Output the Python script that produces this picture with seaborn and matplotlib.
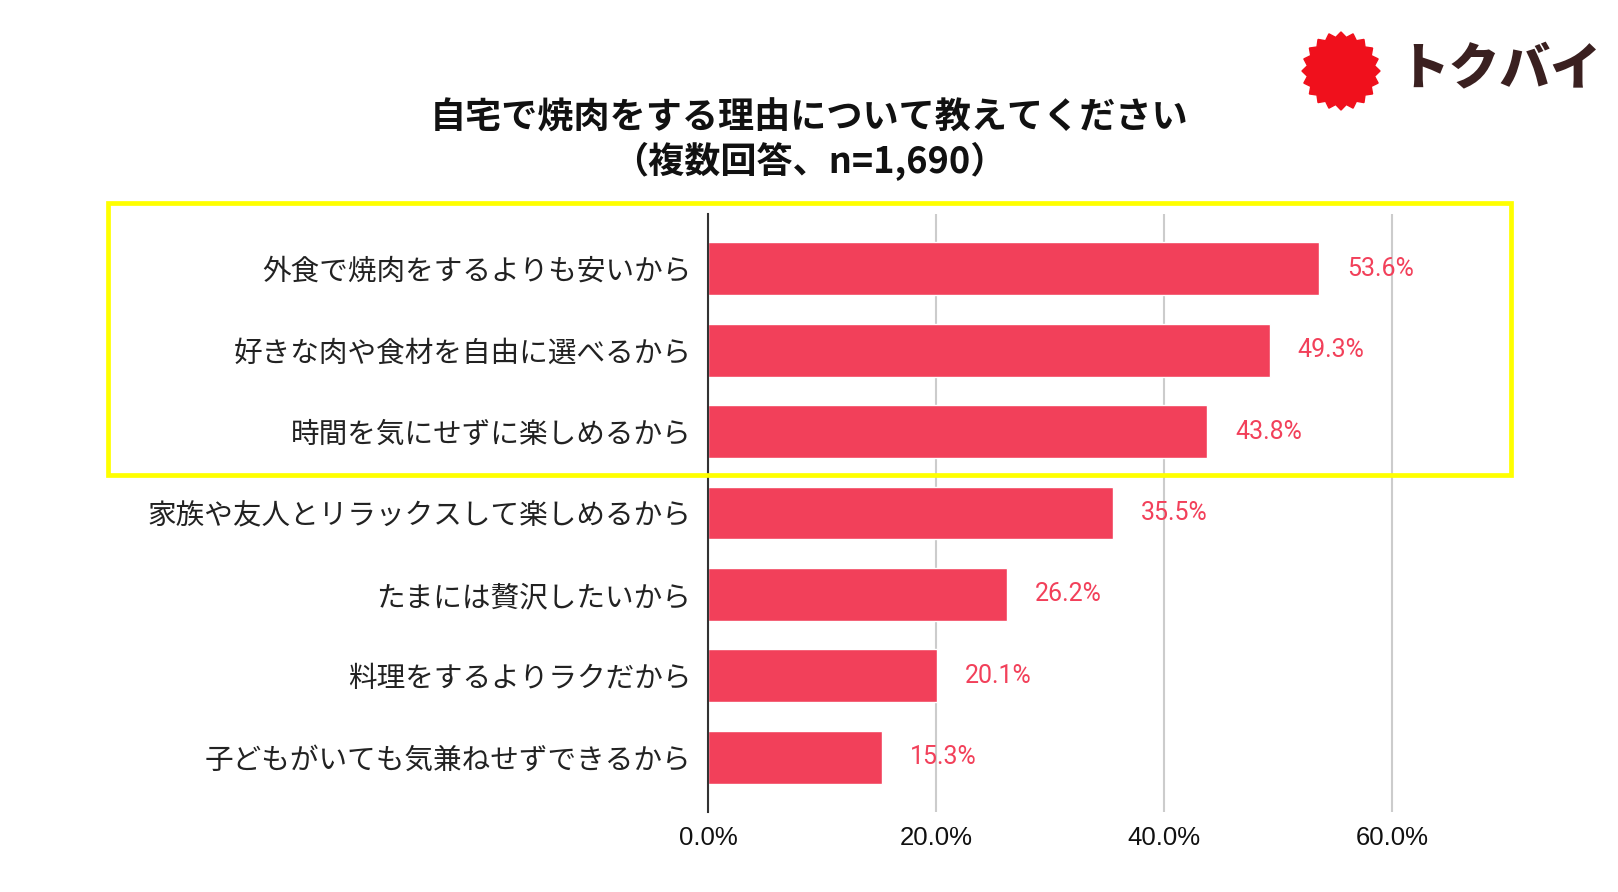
import numpy as np
import pandas as pd
import matplotlib
matplotlib.use("Agg")
import matplotlib.pyplot as plt
import matplotlib.transforms as mtransforms
from matplotlib.patches import Rectangle, Polygon
import seaborn as sns

# データ
reasons = [
    "外食で焼肉をするよりも安いから",
    "好きな肉や食材を自由に選べるから",
    "時間を気にせずに楽しめるから",
    "家族や友人とリラックスして楽しめるから",
    "たまには贅沢したいから",
    "料理をするよりラクだから",
    "子どもがいても気兼ねせずできるから",
]
shares = [53.6, 49.3, 43.8, 35.5, 26.2, 20.1, 15.3]
x_ticks = [0, 20, 40, 60]
title_line1 = "自宅で焼肉をする理由について教えてください"
title_line2 = "（複数回答、n=1,690）"
logo_text = "トクバイ"

BAR = "#f2405a"
W, H = 1618, 892

sns.set_theme(style="white")
plt.rcParams['font.family'] = ['Noto Sans CJK JP', 'DejaVu Sans']

df = pd.DataFrame({"理由": reasons, "割合": shares})

fig = plt.figure(figsize=(W / 100, H / 100), dpi=100)
ax = fig.add_axes([708 / W, 1 - 812 / H, (1506 - 708) / W, (812 - 214) / H])

sns.barplot(data=df, x="割合", y="理由", color=BAR, saturation=1,
            width=0.65, ax=ax, zorder=3)

ax.set_xlim(0, 70)
ax.set_ylim(6.67, -0.67)
ax.set_xticks(x_ticks)
ax.set_xticklabels([f"{t:.1f}%" for t in x_ticks], fontfamily="Liberation Sans",
                   fontsize=18.5, color="#111111")
for lab in ax.get_yticklabels():
    lab.set_fontsize(20.6)
    lab.set_color("#222222")
ax.tick_params(axis="both", length=0)
ax.tick_params(axis="y", pad=12)
ax.tick_params(axis="x", pad=10)
ax.set_xlabel("")
ax.set_ylabel("")
ax.grid(axis="x", color="#cccccc", lw=1.5)
ax.grid(axis="y", visible=False)
ax.set_axisbelow(True)
for s in ["top", "right", "bottom"]:
    ax.spines[s].set_visible(False)
ax.spines["left"].set_color("#333333")
ax.spines["left"].set_linewidth(1.5)
ax.spines["left"].set_zorder(4)

ax.bar_label(ax.containers[0], labels=[f"{v:.1f}%" for v in shares],
             padding=20, color=BAR, fontsize=18, fontfamily="Roboto")

# 上位3項目を囲む黄色の枠
trans = mtransforms.blended_transform_factory(fig.transFigure, ax.transData)
box = Rectangle((108 / W, -0.80), (1511 - 108) / W, 3.33, transform=trans,
                fill=False, edgecolor="#ffff00", lw=3.4, clip_on=False, zorder=5)
ax.add_patch(box)

# タイトル
fig.text(0.5, 1 - 118 / H, title_line1, ha="center", va="center",
         fontsize=26, fontweight="bold", color="#111111")
fig.text(0.5, 1 - 162 / H, title_line2, ha="center", va="center",
         fontsize=26, fontweight="bold", color="#111111")

# ロゴ
lax = fig.add_axes([(1341 - 41) / W, 1 - (71 + 41) / H, 82 / W, 82 / H])
lax.set_xlim(-1.05, 1.05)
lax.set_ylim(-1.05, 1.05)
lax.set_aspect("equal")
lax.axis("off")
ang = np.linspace(0, 2 * np.pi, 41)[:-1]
rad = np.where(np.arange(40) % 2 == 0, 1.0, 0.87)
lax.add_patch(Polygon(np.column_stack([rad * np.cos(ang), rad * np.sin(ang)]),
                      closed=True, color="#f0101c"))
fig.text(1398 / W, 1 - 70 / H, logo_text, ha="left", va="center",
         fontsize=36.5, fontweight="black", color="#3a2020")

fig.savefig("out.png", dpi=100)
